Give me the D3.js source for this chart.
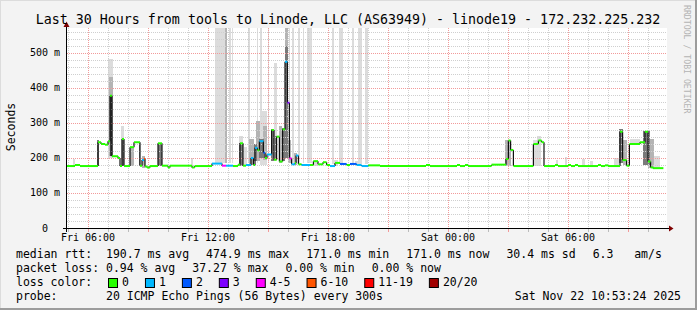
<!DOCTYPE html>
<html><head><meta charset="utf-8">
<script src="https://cdn.jsdelivr.net/npm/d3@7"></script>
<style>
html,body{margin:0;padding:0;background:#f3f3f3;}
svg{display:block;}
text{font-family:"DejaVu Sans Mono",monospace;fill:#000;white-space:pre;}
</style></head><body>
<svg id="c" width="697" height="310"></svg>
<script>
// ---------------- DATA ----------------
const titleText = "Last 30 Hours from tools to Linode, LLC (AS63949) - linode19 - 172.232.225.232";
const yAxisLabel = "Seconds";
const yMajorTicks = [0, 100, 200, 300, 400, 500];
// time in hours since Fri 2025-11-21 00:00
const viewStart = 4.95, viewEnd = 34.95, yMax = 571.4;
const dataEnd = 34.77;

// median rtt (ms), each value holds from medTime[i] to medTime[i+1]
const medTime = [4.95,5.35,5.6,6.5,6.65,6.85,7.0,7.1,7.2,7.5,7.6,7.7,7.8,8.1,8.3,8.6,8.7,8.8,8.85,8.95,
  9.1,9.5,9.7,10.0,10.1,11.2,11.33,12.2,12.7,12.9,13.25,13.5,13.6,13.75,13.9,14.15,14.27,14.35,14.47,14.57,
  14.77,14.85,14.95,15.18,15.3,15.43,15.57,15.73,15.85,15.97,16.07,16.18,16.35,16.4,16.52,16.68,17.1,17.27,17.5,17.75,
  17.93,18.1,18.35,18.6,18.93,19.1,19.43,19.68,20.02,20.6,22.9,23.1,24.45,24.6,24.85,25.0,26.18,26.9,27.02,27.13,
  27.27,28.27,28.52,28.68,28.8,29.35,29.5,30.0,30.15,30.35,30.5,31.5,31.65,31.85,32.0,32.6,32.73,32.93,33.07,33.6,
  33.85,34.0,34.13,34.25];
const medValue = [177,180,177,245,240,238,248,378,205,200,177,254,177,231,245,178,194,198,176,173,
  177,242,178,173,178,173,177,184,178,178,177,181,242,178,180,200,180,229,222,248,
  215,200,210,280,195,261,190,282,475,358,199,182,186,207,182,180,180,191,182,188,
  180,177,186,183,180,183,180,177,179,177,180,177,180,177,180,177,181,197,250,223,
  177,240,250,245,177,180,177,180,177,180,177,180,177,179,177,275,194,178,240,245,
  275,190,173,171];
const medLoss = [0,0,0,0,0,0,0,0,0,0,0,0,0,0,0,0,1,5,0,0,
  0,0,0,0,0,0,0,1,4,1,0,0,0,0,1,1,0,1,0,1,
  2,0,1,0,0,0,0,0,1,3,4,1,0,1,0,1,0,0,0,0,
  0,1,0,2,0,2,1,1,0,0,0,0,0,0,0,0,0,0,0,0,
  0,0,0,0,0,0,0,0,0,0,0,0,0,0,0,0,0,0,0,0,
  0,0,0,0];

// smoke (spread of the 20 pings): start, end (hours), low, high (ms), density level 1..4
const smokeStart = [5.25,6.45,7.0,7.05,7.1,7.65,7.7,8.1,8.55,8.7,9.5,11.15,
  12.35,12.85,13.05,13.2,14.0,14.43,14.6,15.0,15.85,16.07,16.2,16.5,16.73,16.93,18.18,18.56,19.18,19.51,19.85,
  13.55,13.55,13.8,14.05,14.3,14.4,14.55,14.6,14.75,15.15,15.3,15.35,15.55,15.7,15.85,16.02,16.3,17.25,18.3,19.35,
  26.85,28.25,28.45,29.4,29.85,30.7,31.1,32.3,32.55,32.75,33.1,33.75,34.0,34.1];
const smokeEnd = [5.35,6.55,7.25,7.25,7.2,7.8,7.8,8.3,8.62,8.85,9.7,11.25,
  12.85,12.97,13.15,13.27,14.1,14.52,14.68,15.07,16.02,16.12,16.3,16.6,16.8,17.18,18.3,18.76,19.3,19.68,20.02,
  13.75,13.75,13.95,14.3,14.45,14.6,14.78,14.95,14.95,15.3,15.45,15.45,15.7,15.85,16.02,16.15,16.45,17.5,18.5,19.5,
  27.15,28.45,28.65,29.5,29.95,30.85,31.25,32.55,32.75,32.95,33.6,34.1,34.3,34.6];
const smokeLow = [177,178,200,205,205,178,178,178,178,172,178,172,
  185,185,185,185,185,185,185,185,200,185,185,185,185,185,182,182,182,182,182,
  178,178,180,180,190,190,200,180,195,190,190,200,185,190,200,185,180,178,178,178,
  177,177,177,177,177,177,177,177,185,180,240,180,170,170];
const smokeHigh = [197,250,482,430,380,290,254,231,245,205,242,200,
  571,571,571,571,571,571,571,571,571,571,571,571,571,571,571,571,571,571,571,
  262,242,230,255,240,305,255,335,290,282,471,262,290,285,520,250,215,195,195,192,
  252,250,263,195,203,197,190,200,282,250,255,278,255,205];
const smokeLevel = [1,3,1,2,4,1,3,2,3,2,3,1,
  1,2,1,1,1,1,1,1,2,1,1,1,1,1,1,1,1,1,1,
  1,3,1,2,3,2,3,1,2,3,1,3,2,3,3,2,2,1,1,1,
  2,1,1,1,1,1,1,1,3,2,1,3,2,1];

const lossLabels = ["0","1","2","3","4-5","6-10","11-19","20/20"];
const lossColors = ["#26ff00","#00b8ff","#0059ff","#7e00ff","#ff00ff","#ff5500","#ff0000","#a10000"];
const medianStats = ["190.7","474.9","171.0","171.0"];
const lossStats = ["0.94","37.27","0.00","0.00"];
const statNames = ["avg","max","min","now"];
const sdText = "30.4", amsText = "6.3";
const probeText = "20 ICMP Echo Pings (56 Bytes) every 300s";
const dateText = "Sat Nov 22 10:53:24 2025";
const sideText = "RRDTOOL / TOBI OETIKER";

// ---------------- DRAW ----------------
const W = 697, H = 310;
const svg = d3.select("#c");
const base = new Date(2025, 10, 21, 0, 0, 0);
const T = h => new Date(base.getTime() + h * 3600000);
const x = d3.scaleTime().domain([T(viewStart), T(viewEnd)]).range([67, 667]);
const y = d3.scaleLinear().domain([0, yMax]).range([228, 28]);

svg.append("rect").attr("width", W).attr("height", H).attr("fill", "#f3f3f3");
svg.append("rect").attr("x", 0).attr("y", 0).attr("width", W).attr("height", 1).attr("fill", "#dcdcdc");
svg.append("rect").attr("x", 0).attr("y", 0).attr("width", 1).attr("height", H).attr("fill", "#dcdcdc");
svg.append("rect").attr("x", 0).attr("y", H - 2).attr("width", W).attr("height", 2).attr("fill", "#9c9c9c");
svg.append("rect").attr("x", W - 2).attr("y", 0).attr("width", 2).attr("height", H).attr("fill", "#9c9c9c");

// canvas
svg.append("rect").attr("x", 67).attr("y", 28).attr("width", 600).attr("height", 200).attr("fill", "#fff");

// smoke
const smokeFill = ["", "#dcdcdc", "#b4b4b4", "#7a7a7a", "#3c3c3c"];
const smoke = smokeStart.map((s, i) => ({s, e: smokeEnd[i], lo: smokeLow[i], hi: smokeHigh[i], lv: smokeLevel[i]}))
  .sort((a, b) => a.lv - b.lv);
svg.append("g").selectAll("rect").data(smoke).join("rect")
  .attr("x", d => x(T(d.s))).attr("width", d => Math.max(1, x(T(d.e)) - x(T(d.s))))
  .attr("y", d => y(Math.min(d.hi, yMax))).attr("height", d => y(d.lo) - y(Math.min(d.hi, yMax)))
  .attr("fill", d => smokeFill[d.lv]).attr("shape-rendering", "crispEdges");

// grid
const grid = svg.append("g").attr("shape-rendering", "crispEdges");
const hours = x.ticks(d3.timeHour.every(1));
hours.forEach(h => {
  const major = h.getHours() % 3 === 0;
  const xp = Math.round(x(h)) + 0.5;
  grid.append("line").attr("x1", xp).attr("x2", xp).attr("y1", 28).attr("y2", 228)
    .attr("stroke", major ? "#f29a9a" : "#cfcfcf").attr("stroke-dasharray", "1,1");
  grid.append("line").attr("x1", xp).attr("x2", xp).attr("y1", 229).attr("y2", 232)
    .attr("stroke", major ? "#f29a9a" : "#bcbcbc");
});
d3.range(20, yMax, 20).forEach(v => {
  const major = v % 100 === 0;
  const yp = Math.round(y(v)) + 0.5;
  grid.append("line").attr("x1", 67).attr("x2", 667).attr("y1", yp).attr("y2", yp)
    .attr("stroke", major ? "#f29a9a" : "#cfcfcf").attr("stroke-dasharray", "1,1");
});

// median line
const seg = medTime.map((t, i) => ({
  t0: t, t1: i + 1 < medTime.length ? medTime[i + 1] : dataEnd,
  v: medValue[i], vn: i + 1 < medTime.length ? medValue[i + 1] : null, c: lossColors[medLoss[i]]
}));
const lineG = svg.append("g");
lineG.selectAll("line.v").data(seg.filter(d => d.vn !== null)).join("line").attr("class", "v")
  .attr("x1", d => x(T(d.t1))).attr("x2", d => x(T(d.t1)))
  .attr("y1", d => y(d.v)).attr("y2", d => y(d.vn))
  .attr("stroke", "#111").attr("stroke-width", 1.2);
lineG.selectAll("line.h").data(seg).join("line").attr("class", "h")
  .attr("x1", d => x(T(d.t0))).attr("x2", d => x(T(d.t1)))
  .attr("y1", d => y(d.v)).attr("y2", d => y(d.v))
  .attr("stroke", d => d.c).attr("stroke-width", 2);

// axes
svg.append("line").attr("x1", 63).attr("x2", 670).attr("y1", 228.5).attr("y2", 228.5).attr("stroke", "#000");
svg.append("path").attr("d", "M669,225.5L673.5,228.5L669,231.5Z").attr("fill", "#7f0000");
svg.append("line").attr("x1", 66.5).attr("x2", 66.5).attr("y1", 232).attr("y2", 26).attr("stroke", "#000");
svg.append("path").attr("d", "M63.5,27L66.5,21.5L69.5,27Z").attr("fill", "#7f0000");

// y tick labels
svg.append("g").selectAll("text").data(yMajorTicks).join("text")
  .attr("x", 60).attr("y", d => y(d) + 3.5).attr("text-anchor", "end")
  .attr("font-size", "10px").text(d => d === 0 ? "0  " : d + " m");
// x tick labels
svg.append("g").selectAll("text").data(x.ticks(d3.timeHour.every(6))).join("text")
  .attr("x", d => x(d)).attr("y", 241).attr("text-anchor", "middle")
  .attr("font-size", "10px").text(d3.timeFormat("%a %H:%M"));

// title
svg.append("text").attr("x", 348).attr("y", 24).attr("text-anchor", "middle")
  .attr("font-size", "13.3px").text(titleText);
// y label
svg.append("text").attr("transform", "translate(15,127) rotate(-90)").attr("text-anchor", "middle")
  .attr("font-size", "11.5px").text(yAxisLabel);
// side label
svg.append("text").attr("transform", "translate(684,5) rotate(90)")
  .attr("font-size", "8.2px").attr("fill", "#b4b4b4").style("fill", "#b4b4b4").text(sideText);

// legend
const LX = 16, GAP = 17, FS = "11.5px";
function items(yb, list) {
  let cx = LX;
  list.forEach(s => {
    const t = svg.append("text").attr("x", cx).attr("y", yb).attr("font-size", FS).text(s);
    cx += t.node().getComputedTextLength() + GAP;
  });
}
items(258, ["median rtt:  " + medianStats[0] + " ms " + statNames[0],
  medianStats[1] + " ms " + statNames[1], medianStats[2] + " ms " + statNames[2],
  medianStats[3] + " ms " + statNames[3], sdText + " ms sd", amsText + "   am/s"]);
items(272, ["packet loss: " + lossStats[0] + " % " + statNames[0],
  lossStats[1] + " % " + statNames[1], lossStats[2] + " % " + statNames[2], lossStats[3] + " % " + statNames[3]]);
const lc = svg.append("text").attr("x", LX).attr("y", 286).attr("font-size", FS).text("loss color:  ");
let bx = LX + lc.node().getComputedTextLength() + 2;
lossLabels.forEach((lab, i) => {
  svg.append("rect").attr("x", bx + 0.5).attr("y", 278.5).attr("width", 9).attr("height", 9)
    .attr("fill", lossColors[i]).attr("stroke", "#000");
  const t = svg.append("text").attr("x", bx + 14).attr("y", 286).attr("font-size", FS).text(lab);
  bx += 14 + t.node().getComputedTextLength() + 16;
});
svg.append("text").attr("x", LX).attr("y", 300).attr("font-size", FS).text("probe:       " + probeText);
svg.append("text").attr("x", 681).attr("y", 300).attr("text-anchor", "end").attr("font-size", FS).text(dateText);
</script>
</body></html>
